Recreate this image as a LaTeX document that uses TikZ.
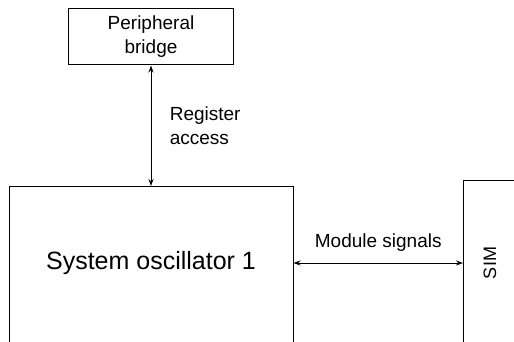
\documentclass[tikz,border=0pt]{standalone}
\usepackage{fontspec}
\setmainfont{Liberation Sans}
\usepackage{tikz}
\usetikzlibrary{arrows.meta}
\usetikzlibrary{positioning}

\begin{document}
\begin{tikzpicture}[
  x=1pt, y=-1pt,
  line width=1pt,
  box/.style={draw, rectangle, inner sep=0pt},
  txt/.style={font=\fontsize{19}{24}\selectfont, align=center},
  link/.style={{Stealth[length=7pt,width=5pt]}-{Stealth[length=7pt,width=5pt]}}]
  \useasboundingbox (0,0) rectangle (514,342);
  \clip (0,0) rectangle (514,342);
  \node[box, txt, minimum width=165pt, minimum height=56pt] (bridge) at (151,37) {Peripheral\\bridge};
  \node[box, anchor=north, minimum width=284pt, minimum height=220pt] (osc) at (151,186) {};
  \node[font=\fontsize{25}{30}\selectfont] (osclabel) at (151,263) {System oscillator 1};
  \node[box, anchor=north west, minimum width=120pt, minimum height=220pt] (sim) at (463,180) {};
  \node[font=\fontsize{18}{22}\selectfont, rotate=90] (simlabel) at (490,263) {SIM};
  \draw[link] (bridge.south) -- (osc.north)
    node[midway, right=15pt, txt, align=left] (regaccess) {Register\\access};
  \draw[link] (osclabel -| osc.east) -- (osclabel -| sim.west)
    node[midway, above=8pt, txt] (modsig) {Module signals};
\end{tikzpicture}
\end{document}
